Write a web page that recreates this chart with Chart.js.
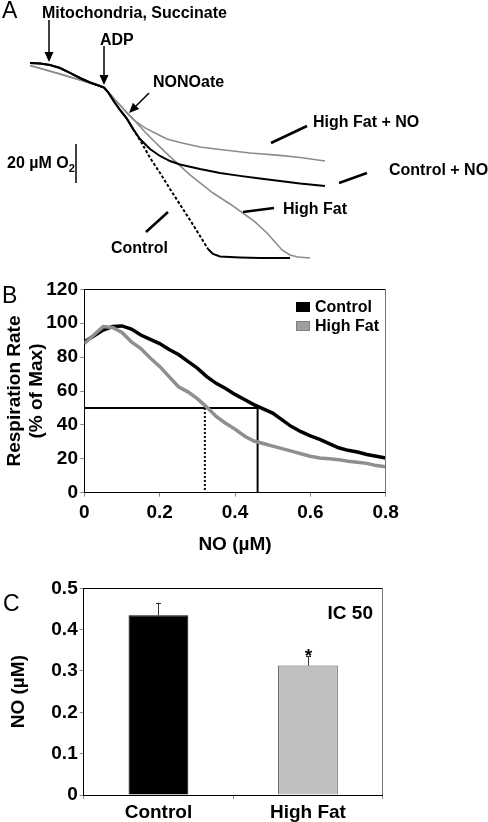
<!DOCTYPE html>
<html>
<head>
<meta charset="utf-8">
<script src="https://cdn.jsdelivr.net/npm/chart.js@4.4.0/dist/chart.umd.min.js"></script>
<style>
  body { margin: 0; background: #fff; }
  #wrap { position: relative; width: 488px; height: 822px; overflow: hidden; font-family: "Liberation Sans", Arial, sans-serif; color: #000; }
  canvas { position: absolute; left: 0; }
  .lbl { position: absolute; font-weight: bold; font-size: 16px; line-height: 16px; white-space: nowrap; }
  .panel { position: absolute; font-size: 23px; line-height: 23px; }
  .key { position: absolute; width: 14px; height: 10px; box-sizing: border-box; }
</style>
</head>
<body>
<div id="wrap">
  <canvas id="chartA" width="488" height="280" style="top:0"></canvas>
  <canvas id="chartB" width="488" height="280" style="top:280px"></canvas>
  <canvas id="chartC" width="488" height="262" style="top:560px"></canvas>

  <div class="panel" style="left:2px;top:-1px">A</div>
  <div class="lbl" style="left:42px;top:5px">Mitochondria, Succinate</div>
  <div class="lbl" style="left:100px;top:32px">ADP</div>
  <div class="lbl" style="left:153px;top:74px">NONOate</div>
  <div class="lbl" style="left:313px;top:114px">High Fat + NO</div>
  <div class="lbl" style="left:389px;top:162px">Control + NO</div>
  <div class="lbl" style="left:283px;top:201px">High Fat</div>
  <div class="lbl" style="left:111px;top:240px">Control</div>
  <div class="lbl" style="left:7px;top:155px">20 µM O<span style="font-size:11px;position:relative;top:4px">2</span></div>

  <div class="panel" style="left:2px;top:284px">B</div>
  <div class="key" style="left:296px;top:302px;background:#000;border:1px solid #000"></div>
  <div class="lbl" style="left:315px;top:299px">Control</div>
  <div class="key" style="left:296px;top:321px;background:#a0a0a0;border:1px solid #808080"></div>
  <div class="lbl" style="left:315px;top:318px">High Fat</div>

  <div class="panel" style="left:3px;top:592px">C</div>
  <div class="lbl" style="right:115px;top:603px;font-size:19px;line-height:19px">IC 50</div>
</div>

<script>
// ---- Panel A: oxygen traces (time in s, O2 in µM) ----
const ctrlBaseT = [0, 20, 40, 60, 80, 100, 120, 140, 148, 156, 166, 180, 194, 206];
const ctrlBaseO = [100, 99.7, 99.0, 97.4, 94.9, 92.3, 90.0, 88.2, 87.4, 85.1, 81.0, 75.9, 71.3, 66.2];
const ctrlTailT = [220, 240, 260, 280, 300, 320, 340, 356, 366, 380, 420, 460, 520];
const ctrlTailO = [60.5, 51.4, 43.6, 35.4, 27.4, 19.5, 11.3, 4.6, 2.1, 0.8, 0.3, 0, 0];
const ctrlNoTailT = [220, 240, 260, 280, 300, 340, 380, 420, 460, 500, 540, 590];
const ctrlNoTailO = [61.0, 55.9, 52.3, 49.7, 47.9, 45.6, 43.6, 42.1, 40.8, 39.5, 38.2, 36.9];
const hfBaseT = [0, 60, 120, 148, 160, 176, 194, 210];
const hfBaseO = [98.7, 94.4, 89.7, 87.4, 84.1, 79.5, 74.4, 70.3];
const hfNoTailT = [230, 250, 274, 300, 340, 380, 440, 500, 540, 590];
const hfNoTailO = [66.7, 64.1, 61.0, 59.2, 56.9, 55.6, 53.8, 52.6, 51.5, 49.7];
const hfTailT = [230, 250, 270, 290, 320, 366, 400, 420, 450, 474, 490, 504, 520, 536, 560];
const hfTailO = [64.6, 59.5, 54.4, 49.7, 42.6, 33.3, 27.7, 24.1, 18.5, 12.8, 8.2, 4.1, 1.5, 0.5, 0];
const ctrlDashFrom = 206, ctrlDashTo = 356; // fast part of the control trace is dotted
const scaleBarUM = 20;

// ---- Panel B: respiration vs NO ----
const noGrid = [0, 0.025, 0.05, 0.075, 0.1, 0.125, 0.15, 0.175, 0.2, 0.225, 0.25, 0.275, 0.3, 0.325, 0.35,
  0.375, 0.4, 0.425, 0.45, 0.475, 0.5, 0.525, 0.55, 0.575, 0.6, 0.625, 0.65, 0.675, 0.7, 0.725, 0.75, 0.775, 0.8];
const rateControl = [89, 92.5, 96, 98, 98.4, 96.5, 93, 90.5, 88, 84.5, 81.5, 77.5, 73.5, 68.5, 64.5,
  61.5, 58, 55, 52, 49.5, 47, 43, 39, 36, 33.5, 31.5, 29, 26.5, 25, 24, 22.5, 21.5, 20.5];
const rateHighFat = [88, 93, 98, 97.5, 94.5, 89, 85, 79.5, 74.5, 68.5, 62.5, 59.5, 55.5, 50.5, 45,
  41, 37.5, 33.5, 30.5, 29, 27.5, 26, 24.5, 23, 21.5, 20.5, 20, 19.5, 18.5, 18, 17.3, 16, 15.3];
const halfMax = 50;
const ic50Control = 0.46, ic50HighFat = 0.32;

// ---- Panel C: IC50 bars ----
const groups = ['Control', 'High Fat'];
const icMeans = [0.435, 0.313];
const icSem = [0.03, 0.023];
const icStar = [false, true];

Chart.defaults.font.family = '"Liberation Sans", Arial, sans-serif';
Chart.defaults.color = '#000';

const pairs = (xs, ys) => xs.map((x, i) => ({ x: x, y: ys[i] }));
const lineSet = (data, color, width, extra) => Object.assign({
  data: data, showLine: true, pointRadius: 0, borderColor: color, backgroundColor: color,
  borderWidth: width, fill: false, tension: 0
}, extra || {});

const annotA = {
  id: 'annotA',
  afterDatasetsDraw(chart) {
    const ctx = chart.ctx;
    const y = chart.scales.y;
    ctx.save();
    ctx.strokeStyle = '#000';
    ctx.fillStyle = '#000';
    const arrow = (x1, y1, x2, y2) => {
      const a = Math.atan2(y2 - y1, x2 - x1), L = 10, W = 4.5;
      const bx = x2 - L * Math.cos(a), by = y2 - L * Math.sin(a);
      ctx.lineWidth = 1.5;
      ctx.beginPath(); ctx.moveTo(x1, y1); ctx.lineTo(bx, by); ctx.stroke();
      ctx.beginPath();
      ctx.moveTo(x2, y2);
      ctx.lineTo(bx + W * Math.sin(a), by - W * Math.cos(a));
      ctx.lineTo(bx - W * Math.sin(a), by + W * Math.cos(a));
      ctx.closePath(); ctx.fill();
    };
    arrow(49, 20, 49, 62);
    arrow(104, 46, 104, 85);
    arrow(149, 93, 129, 113);
    ctx.lineWidth = 2.5;
    [[271, 143, 307, 126], [339, 183, 367, 173], [243, 212, 274, 208], [146, 232, 168, 212]].forEach(s => {
      ctx.beginPath(); ctx.moveTo(s[0], s[1]); ctx.lineTo(s[2], s[3]); ctx.stroke();
    });
    // 20 µM scale bar
    const h = y.getPixelForValue(0) - y.getPixelForValue(scaleBarUM);
    ctx.lineWidth = 1.5;
    ctx.beginPath(); ctx.moveTo(76, 183); ctx.lineTo(76, 183 - h); ctx.stroke();
    ctx.restore();
  }
};

new Chart(document.getElementById('chartA'), {
  type: 'scatter',
  data: {
    datasets: [
      lineSet(pairs(ctrlBaseT.concat(ctrlNoTailT), ctrlBaseO.concat(ctrlNoTailO)), '#000', 2),
      lineSet(pairs(ctrlBaseT.concat(ctrlTailT), ctrlBaseO.concat(ctrlTailO)), '#000', 2, {
        segment: { borderDash: c => (c.p0.parsed.x >= ctrlDashFrom && c.p1.parsed.x <= ctrlDashTo) ? [3, 2] : undefined }
      }),
      lineSet(pairs(hfBaseT.concat(hfNoTailT), hfBaseO.concat(hfNoTailO)), '#8c8c8c', 1.6),
      lineSet(pairs(hfBaseT.concat(hfTailT), hfBaseO.concat(hfTailO)), '#8c8c8c', 1.6)
    ]
  },
  options: {
    responsive: false, animation: false,
    layout: { padding: 0 },
    plugins: { legend: { display: false }, tooltip: { enabled: false } },
    scales: {
      x: { type: 'linear', display: false, min: -60, max: 916 },
      y: { type: 'linear', display: false, min: -11.3, max: 132.3 }
    }
  },
  plugins: [annotA]
});

const frame = {
  id: 'frame',
  afterDraw(chart) {
    const ctx = chart.ctx, a = chart.chartArea;
    ctx.save();
    ctx.lineWidth = 1;
    ctx.strokeStyle = '#000';
    ctx.beginPath(); ctx.moveTo(a.left, Math.round(a.top) + 0.5); ctx.lineTo(a.right, Math.round(a.top) + 0.5); ctx.stroke();
    ctx.strokeStyle = '#777';
    ctx.beginPath(); ctx.moveTo(Math.round(a.right) - 0.5, a.top); ctx.lineTo(Math.round(a.right) - 0.5, a.bottom); ctx.stroke();
    ctx.restore();
  }
};

const tickFont = { size: 19, weight: 'bold' };
const titleFont = { size: 19, weight: 'bold', lineHeight: 1.15 };
const axisGrid = { drawOnChartArea: false, drawTicks: true, tickLength: 4, tickColor: '#888' };
const axisBorder = { display: true, color: '#000', width: 1 };

new Chart(document.getElementById('chartB'), {
  type: 'scatter',
  data: {
    datasets: [
      lineSet(pairs(noGrid, rateHighFat), '#8f8f8f', 3.5, { label: 'High Fat' }),
      lineSet(pairs(noGrid, rateControl), '#000', 3.5, { label: 'Control' }),
      lineSet([{ x: 0, y: halfMax }, { x: ic50Control, y: halfMax }, { x: ic50Control, y: 0 }], '#000', 2),
      lineSet([{ x: ic50HighFat, y: halfMax }, { x: ic50HighFat, y: 0 }], '#000', 2, { borderDash: [2, 2] })
    ]
  },
  options: {
    responsive: false, animation: false,
    layout: { padding: { top: 9.3, right: 102.3, left: 0, bottom: 0 } },
    plugins: { legend: { display: false }, tooltip: { enabled: false } },
    scales: {
      x: {
        type: 'linear', min: 0, max: 0.8,
        ticks: { stepSize: 0.2, font: tickFont, padding: 5 },
        grid: axisGrid, border: axisBorder,
        title: { display: true, text: 'NO (µM)', font: titleFont, padding: { top: 0, bottom: 4 } },
        afterFit: s => { s.height = 67.3; s.paddingLeft = 0; s.paddingRight = 0; }
      },
      y: {
        type: 'linear', min: 0, max: 120,
        ticks: { stepSize: 20, font: tickFont, padding: 2.3 },
        grid: axisGrid, border: axisBorder,
        title: { display: true, text: ['Respiration Rate', '(% of Max)'], font: titleFont, padding: { top: 4, bottom: 0 } },
        afterFit: s => { s.width = 84.3; s.paddingTop = 0; s.paddingBottom = 0; }
      }
    }
  },
  plugins: [frame]
});

const errorBars = {
  id: 'errorBars',
  afterDatasetsDraw(chart) {
    const ctx = chart.ctx, y = chart.scales.y;
    const meta = chart.getDatasetMeta(0);
    ctx.save();
    ctx.strokeStyle = '#333';
    ctx.lineWidth = 1;
    meta.data.forEach((bar, i) => {
      const top = y.getPixelForValue(icMeans[i] + icSem[i]);
      const x = Math.round(bar.x) + 0.5;
      ctx.beginPath();
      ctx.moveTo(x, bar.y); ctx.lineTo(x, top);
      ctx.moveTo(x - 2.5, Math.round(top) + 0.5); ctx.lineTo(x + 2.5, Math.round(top) + 0.5);
      ctx.stroke();
      if (icStar[i]) {
        ctx.fillStyle = '#000';
        ctx.font = 'bold 19px "Liberation Sans", Arial, sans-serif';
        ctx.textAlign = 'center';
        ctx.textBaseline = 'alphabetic';
        ctx.fillText('*', x, top + 6);
      }
    });
    ctx.restore();
  }
};

new Chart(document.getElementById('chartC'), {
  type: 'bar',
  data: {
    labels: groups,
    datasets: [{
      data: icMeans,
      backgroundColor: ['#000', '#c0c0c0'],
      borderColor: ['#000', '#606060'],
      borderWidth: 1,
      barPercentage: 0.4,
      categoryPercentage: 1
    }]
  },
  options: {
    responsive: false, animation: false,
    layout: { padding: { top: 28.3, right: 105.3, left: 0, bottom: 0 } },
    plugins: { legend: { display: false }, tooltip: { enabled: false } },
    scales: {
      x: {
        ticks: { font: tickFont, padding: 2 },
        grid: axisGrid, border: axisBorder,
        afterFit: s => { s.height = 27; s.paddingLeft = 0; s.paddingRight = 0; }
      },
      y: {
        min: 0, max: 0.5,
        ticks: { stepSize: 0.1, font: tickFont, padding: 2 },
        grid: axisGrid, border: axisBorder,
        title: { display: true, text: 'NO (µM)', font: titleFont, padding: { top: 8, bottom: 0 } },
        afterFit: s => { s.width = 83.7; s.paddingTop = 0; s.paddingBottom = 0; }
      }
    }
  },
  plugins: [frame, errorBars]
});
</script>
</body>
</html>
